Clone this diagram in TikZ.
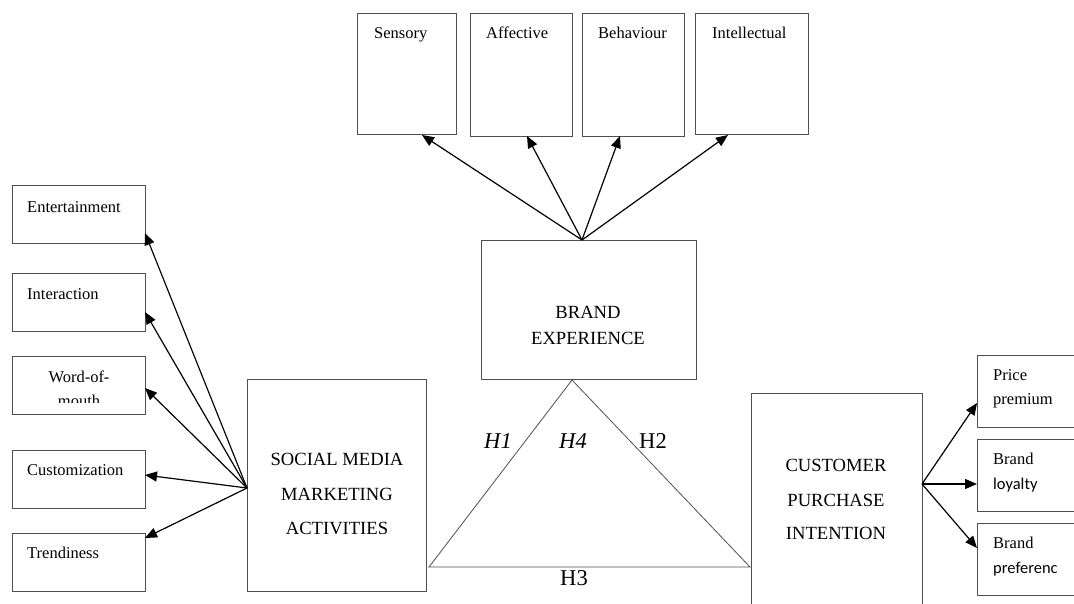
\documentclass[tikz,border=0pt]{standalone}
\usepackage{fontspec}
\setmainfont{Liberation Serif}
\newfontfamily\calib{Carlito}
\usetikzlibrary{arrows.meta}
\definecolor{boxline}{HTML}{505050}
\tikzset{
  box/.style={draw=boxline, line width=1pt, rectangle, inner sep=0pt, outer sep=0pt},
  arr/.style={draw=black, line width=1.2pt, -{Triangle[length=12pt,width=10pt]}},
  small/.style={inner sep=0pt, font=\fontsize{16.5}{18}\selectfont},
  big/.style={inner sep=0pt, anchor=base, font=\fontsize{18.6}{22}\selectfont},
  hlab/.style={inner sep=0pt, anchor=base, font=\fontsize{22.6}{26}\selectfont},
  tri/.style={draw=boxline, line width=0.8pt}
}
\begin{document}
\begin{tikzpicture}[x=1pt,y=-1pt]
\clip (0,0) rectangle (1074,603);
\fill[white] (0,0) rectangle (1074,603);
% top boxes
\node[box, minimum width=99, minimum height=121] (sens) at (406.5,73.5) {};
\node[box, minimum width=102, minimum height=123] (aff) at (521,74.5) {};
\node[box, minimum width=102, minimum height=123] (beh) at (633,74.5) {};
\node[box, minimum width=113, minimum height=121] (intl) at (751.5,73.5) {};
\node[small, anchor=base west] (tsens) at (374,38) {Sensory};
\node[small, anchor=base west] (taff) at (486,38) {Affective};
\node[small, anchor=base west] (tbeh) at (598,38) {Behaviour};
\node[small, anchor=base west] (tintl) at (712,38) {Intellectual};
% brand experience
\node[box, minimum width=215, minimum height=139] (be) at (588.5,309.5) {};
\node[big] (tbe1) at (588,318) {BRAND};
\node[big] (tbe2) at (588,344) {EXPERIENCE};
\coordinate (behub) at (582,240);
\draw[arr] (behub) -- ([xshift=15.5,yshift=-1]sens.south);
\draw[arr] (behub) -- ([xshift=6]aff.south);
\draw[arr] (behub) -- ([xshift=-13]beh.south);
\draw[arr] (behub) -- ([xshift=-23.5,yshift=-1]intl.south);
% left boxes
\node[box, minimum width=133, minimum height=58] (ent) at (78.5,214) {};
\node[box, minimum width=133, minimum height=58] (inter) at (78.5,302) {};
\node[box, minimum width=133, minimum height=58] (wom) at (78.5,385) {};
\node[box, minimum width=133, minimum height=58] (cust) at (78.5,479) {};
\node[box, minimum width=133, minimum height=58] (trend) at (78.5,562) {};
\node[small, anchor=base west] (tent) at (27,212) {Entertainment};
\node[small, anchor=base west] (tinter) at (27,299) {Interaction};
\node[small, anchor=base] (twom1) at (79,382) {Word-of-};
\begin{scope}
\clip (12,388) rectangle (145,402);
\node[small, anchor=base] (twom2) at (79,406) {mouth};
\end{scope}
\node[small, anchor=base west] (tcust) at (27,475) {Customization};
\node[small, anchor=base west] (ttrend) at (27,558) {Trendiness};
% SMMA
\node[box, minimum width=179, minimum height=212] (smma) at (336.5,485) {};
\node[big] (ts1) at (337,465) {SOCIAL MEDIA};
\node[big] (ts2) at (337,500) {MARKETING};
\node[big] (ts3) at (337,534) {ACTIVITIES};
\coordinate (smhub) at (247,488);
\draw[arr] (smhub) -- ([yshift=-19]ent.east);
\draw[arr] (smhub) -- ([yshift=-10]inter.east);
\draw[arr] (smhub) -- ([yshift=-3]wom.east);
\draw[arr] (smhub) -- ([yshift=4]cust.east);
\draw[arr] (smhub) -- ([yshift=24]trend.east);
% CPI
\node[box, minimum width=171, minimum height=227] (cpi) at (836.5,506.5) {};
\node[big] (tc1) at (836,471) {CUSTOMER};
\node[big] (tc2) at (836,506) {PURCHASE};
\node[big] (tc3) at (836,539) {INTENTION};
% right boxes
\node[box, minimum width=113, minimum height=72] (price) at (1033.5,391) {};
\node[box, minimum width=113, minimum height=72] (loyal) at (1033.5,475) {};
\node[box, minimum width=113, minimum height=72] (pref) at (1033.5,559) {};
\node[small, anchor=base west] (tp1) at (993,380) {Price};
\node[small, anchor=base west] (tp2) at (993,404) {premium};
\node[small, anchor=base west] (tl1) at (993,464) {Brand};
\node[small, anchor=base west, font=\calib\fontsize{16.5}{18}\selectfont] (tl2) at (993,489) {loyalty};
\node[small, anchor=base west] (tf1) at (993,548) {Brand};
\node[small, anchor=base west, font=\calib\fontsize{16.5}{18}\selectfont] (tf2) at (993,573) {preferenc};
\coordinate (cphub) at (922,484);
\draw[arr] (cphub) -- ([yshift=-12]price.west);
\draw[arr] (cphub) -- ([yshift=-9]loyal.west);
\draw[arr] (cphub) -- ([yshift=11]pref.west);
% triangle
\coordinate (tapex) at (572,380);
\coordinate (tleft) at (429,567);
\coordinate (tright) at (750,567);
\draw[tri] (tapex) -- (tleft) -- (tright) -- cycle;
\node[hlab, font=\itshape\fontsize{22.6}{26}\selectfont] (h1) at (498,448) {H1};
\node[hlab, font=\itshape\fontsize{22.6}{26}\selectfont] (h4) at (573,448) {H4};
\node[hlab] (h2) at (653,448) {H2};
\node[hlab] (h3) at (574,585) {H3};
\end{tikzpicture}
\end{document}
